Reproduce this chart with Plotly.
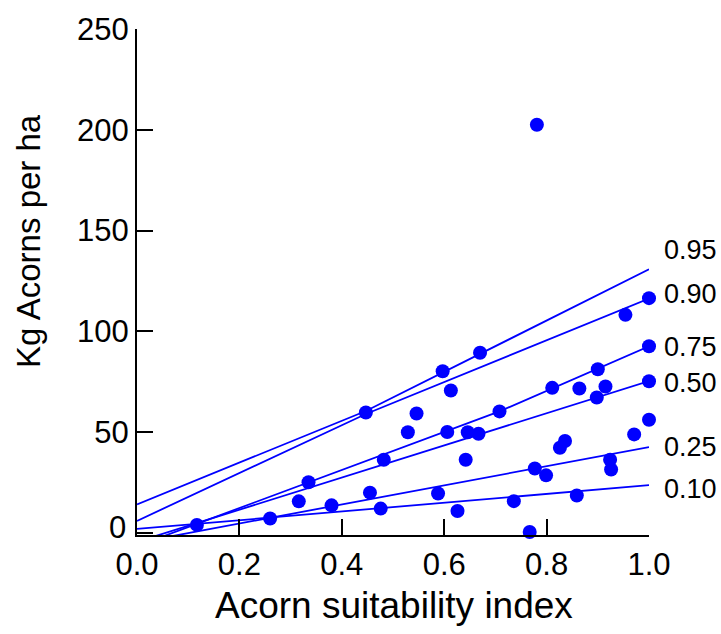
import plotly.graph_objects as go

# Observed stands: acorn suitability index vs. acorn yield (kg/ha)
suitability = [0.117, 0.260, 0.316, 0.335, 0.380, 0.447, 0.455, 0.476, 0.482,
               0.529, 0.546, 0.588, 0.597, 0.606, 0.613, 0.626, 0.642, 0.646,
               0.667, 0.670, 0.708, 0.736, 0.767, 0.777, 0.781, 0.799, 0.811,
               0.826, 0.836, 0.859, 0.864, 0.898, 0.900, 0.915, 0.924, 0.926,
               0.954, 0.971, 1.000, 1.000, 1.000, 1.000]
acorns_kg = [4.0, 7.2, 15.7, 25.2, 13.7, 59.8, 20.0, 12.1, 36.3,
             50.0, 59.3, 19.6, 80.2, 50.1, 70.7, 10.9, 36.3, 50.0,
             49.2, 89.4, 60.3, 15.8, 0.5, 32.0, 202.5, 28.6, 72.0,
             42.3, 45.6, 18.6, 71.7, 67.2, 81.2, 72.7, 36.3, 31.5,
             108.2, 48.9, 56.2, 75.3, 92.6, 116.5]

# Fitted quantile curves (vertices of each fitted line)
quantile_names = ["0.95", "0.90", "0.75", "0.50", "0.25", "0.10"]
quantile_x = [
    [0.0, 0.447, 1.0],
    [0.0, 0.447, 1.0],
    [0.0, 0.708, 1.0],
    [0.0, 1.0],
    [0.0, 1.0],
    [0.0, 1.0],
]
quantile_y = [
    [14.2, 60.5, 130.8],
    [6.0, 59.0, 116.3],
    [-6.5, 60.3, 92.6],
    [-4.4, 75.3],
    [-4.8, 42.6],
    [2.0, 23.7],
]
# Vertical placement of the quantile labels (data units)
label_y = [140.5, 118.4, 92.5, 74.6, 42.6, 22.0]

x_ticks = [0.0, 0.2, 0.4, 0.6, 0.8, 1.0]
x_ticktext = ["0.0", "0.2", "0.4", "0.6", "0.8", "1.0"]
y_ticks = [0, 50, 100, 150, 200, 250]
# the zero label is drawn separately, lifted clear of the x tick labels
y_ticktext = ["", "50", "100", "150", "200", "250"]
y_zero_label = "0"

BLUE = "#0000FF"
FONT = "Liberation Sans"

fig = go.Figure()

for qx, qy in zip(quantile_x, quantile_y):
    fig.add_trace(go.Scatter(
        x=qx, y=qy, mode="lines",
        line=dict(color=BLUE, width=1.8),
        hoverinfo="skip", showlegend=False,
    ))

fig.add_trace(go.Scatter(
    x=suitability, y=acorns_kg, mode="markers",
    marker=dict(color=BLUE, size=14, line=dict(width=0)),
    cliponaxis=False, showlegend=False,
))

# Quantile labels sit just right of the plotting area
for name, ly in zip(quantile_names, label_y):
    fig.add_annotation(
        x=1.025, y=ly, xref="paper", yref="y", text=name,
        showarrow=False, xanchor="left", yanchor="middle",
        font=dict(family=FONT, size=27, color="black"),
    )

fig.add_annotation(
    text=y_zero_label, xref="paper", yref="paper",
    x=-0.018, y=0.015, xanchor="right", yanchor="middle",
    showarrow=False, font=dict(family=FONT, size=31, color="black"),
)

fig.add_annotation(
    text="Kg Acorns per ha", textangle=-90,
    xref="paper", yref="paper", x=-0.213, y=0.581,
    xanchor="center", yanchor="middle", showarrow=False,
    font=dict(family=FONT, size=33, color="black"),
)
fig.add_annotation(
    text="Acorn suitability index",
    xref="paper", yref="paper", x=0.502, y=-0.14,
    xanchor="center", yanchor="middle", showarrow=False,
    font=dict(family=FONT, size=37, color="black"),
)

axis_common = dict(
    showline=True, linecolor="black", linewidth=2,
    ticks="inside", ticklen=16, tickwidth=2, tickcolor="black",
    showgrid=False, zeroline=False, mirror=False,
    tickfont=dict(family=FONT, size=31, color="black"),
)

fig.update_xaxes(range=[0, 1], tickvals=x_ticks, ticktext=x_ticktext,
                 ticklabelstandoff=1, **axis_common)
fig.update_yaxes(range=[-1, 250], tickvals=y_ticks, ticktext=y_ticktext,
                 ticklabelstandoff=0, **axis_common)

fig.update_layout(
    width=721, height=634,
    margin=dict(l=137, r=72, t=22, b=99),
    plot_bgcolor="white", paper_bgcolor="white",
    showlegend=False,
)

fig.write_html("out.html")
